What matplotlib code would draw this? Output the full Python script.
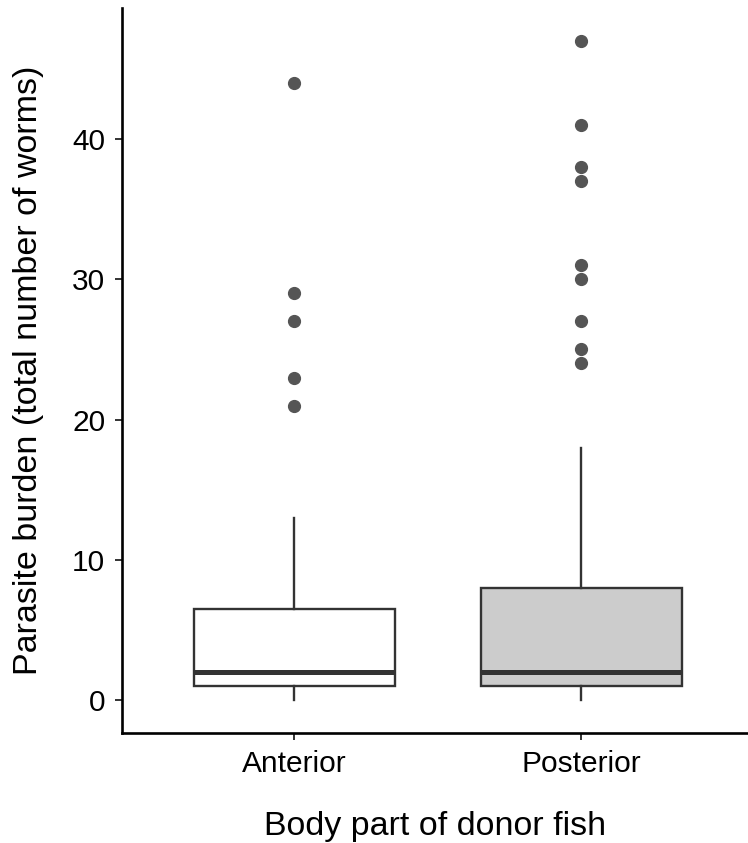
import matplotlib
matplotlib.use("Agg")
import matplotlib.pyplot as plt

plt.rcParams['font.family'] = ['Liberation Sans', 'DejaVu Sans']

# body part categories
groups = ['Anterior', 'Posterior']
fills = ['#FFFFFF', '#CCCCCC']

# box summaries
whisker_low = [0, 0]
q1 = [1, 1]
medians = [2, 2]
q3 = [6.5, 8]
whisker_high = [13, 18]
outliers = [
    [21, 23, 27, 29, 44],
    [24, 25, 27, 30, 31, 37, 38, 41, 47],
]

stats = []
for i, g in enumerate(groups):
    stats.append({
        'label': g,
        'whislo': whisker_low[i],
        'q1': q1[i],
        'med': medians[i],
        'q3': q3[i],
        'whishi': whisker_high[i],
        'fliers': outliers[i],
    })

fig = plt.figure(figsize=(7.48, 8.43), dpi=100)
ax = fig.add_axes([122 / 748, 110 / 843, 626 / 748, 725 / 843])

edge = '#333333'
bp = ax.bxp(stats, positions=[1, 2], widths=0.7, patch_artist=True,
            showcaps=False,
            boxprops=dict(edgecolor=edge, linewidth=1.7),
            whiskerprops=dict(color=edge, linewidth=1.7),
            medianprops=dict(color=edge, linewidth=3.6, solid_capstyle='butt'),
            flierprops=dict(marker='o', markersize=8.5, markerfacecolor='#555555',
                            markeredgecolor='#555555'))
for patch, c in zip(bp['boxes'], fills):
    patch.set_facecolor(c)

ax.set_xlim(0.4, 2.58)
ax.set_ylim(-2.35, 49.35)
ax.set_yticks([0, 10, 20, 30, 40])
ax.set_xticks([1, 2])
ax.set_xticklabels(groups)

for s in ['top', 'right']:
    ax.spines[s].set_visible(False)
for s in ['left', 'bottom']:
    ax.spines[s].set_linewidth(1.9)
    ax.spines[s].set_color('black')

ax.tick_params(axis='both', length=5, width=1.4, color=edge,
               labelsize=21.5, labelcolor='black')
ax.tick_params(axis='x', pad=7)
ax.tick_params(axis='y', pad=7)

ax.set_xlabel('Body part of donor fish', fontsize=24.5, labelpad=24)
ax.set_ylabel('Parasite burden (total number of worms)', fontsize=24.5, labelpad=20)

fig.savefig('out.png', dpi=100)
